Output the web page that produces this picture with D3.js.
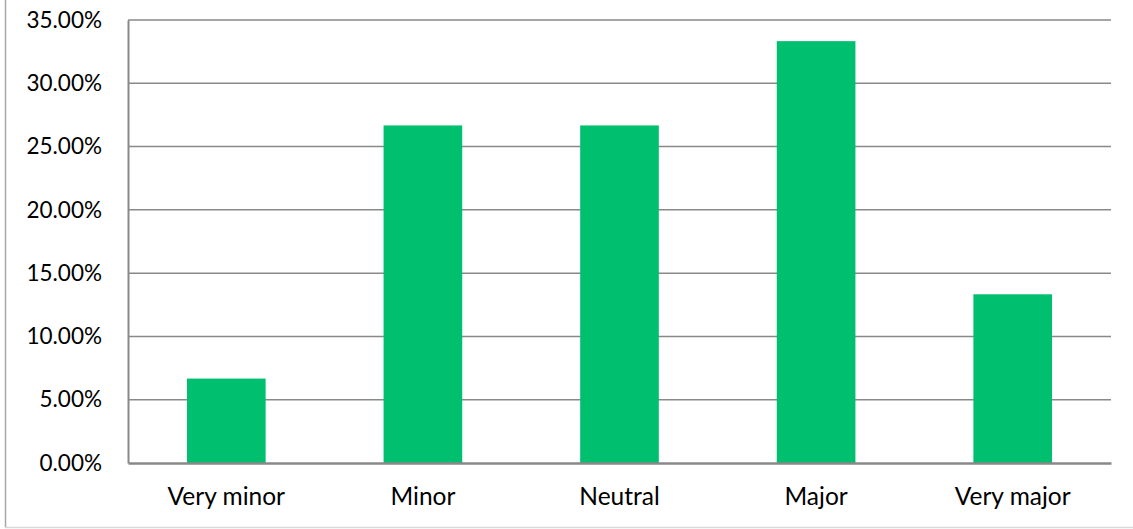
<!DOCTYPE html>
<html>
<head>
<meta charset="utf-8">
<script src="https://cdn.jsdelivr.net/npm/d3@7"></script>
<style>
  body { margin: 0; background: #fff; }
  svg text { font-family: Lato, "Noto Sans", sans-serif; fill: #000; }
</style>
</head>
<body>
<script>
var categories = ['Very minor', 'Minor', 'Neutral', 'Major', 'Very major'];
var values = [6.67, 26.67, 26.67, 33.33, 13.33];
var yTicks = [0, 5, 10, 15, 20, 25, 30, 35];

var width = 1133, height = 529;
var plotLeft = 128, plotRight = 1111, plotTop = 20, plotBottom = 463;

var svg = d3.select('body')
  .append('svg')
  .attr('width', width)
  .attr('height', height);

// outer chart border (only left and bottom edges are in frame)
svg.append('line')
  .attr('x1', 5.5).attr('x2', 5.5)
  .attr('y1', 0).attr('y2', 527.5)
  .attr('stroke', '#a6a6a6').attr('stroke-width', 1.5);
svg.append('line')
  .attr('x1', 5).attr('x2', width)
  .attr('y1', 527.5).attr('y2', 527.5)
  .attr('stroke', '#d9d9d9').attr('stroke-width', 1.5);

var x = d3.scaleBand()
  .domain(categories)
  .range([plotLeft, plotRight])
  .paddingInner(0.6)
  .paddingOuter(0.3);

var y = d3.scaleLinear()
  .domain([0, 35])
  .range([plotBottom, plotTop]);

// gridlines
svg.append('g')
  .selectAll('line')
  .data(yTicks.slice(1))
  .enter()
  .append('line')
  .attr('x1', plotLeft)
  .attr('x2', plotRight)
  .attr('y1', function(d) { return y(d); })
  .attr('y2', function(d) { return y(d); })
  .attr('stroke', '#898989')
  .attr('stroke-width', 1.5);

// bars
svg.append('g')
  .selectAll('rect')
  .data(values)
  .enter()
  .append('rect')
  .attr('x', function(d, i) { return x(categories[i]); })
  .attr('y', function(d) { return y(d); })
  .attr('width', x.bandwidth())
  .attr('height', function(d) { return plotBottom - y(d); })
  .attr('fill', '#00c070');

// y axis
var yAxis = svg.append('g')
  .attr('transform', 'translate(' + plotLeft + ',0)')
  .call(d3.axisLeft(y).tickValues(yTicks).tickSize(0).tickPadding(26)
    .tickFormat(function(d) { return d.toFixed(2) + '%'; }));
yAxis.select('.domain').attr('stroke', '#898989').attr('stroke-width', 2);
yAxis.selectAll('text').attr('font-size', 22.5);

// x axis
var xAxis = svg.append('g')
  .attr('transform', 'translate(0,' + plotBottom + ')')
  .call(d3.axisBottom(x).tickSize(0).tickPadding(24.5));
xAxis.select('.domain').attr('stroke', '#898989').attr('stroke-width', 2.5);
xAxis.selectAll('text').attr('font-size', 24.5);
</script>
</body>
</html>
